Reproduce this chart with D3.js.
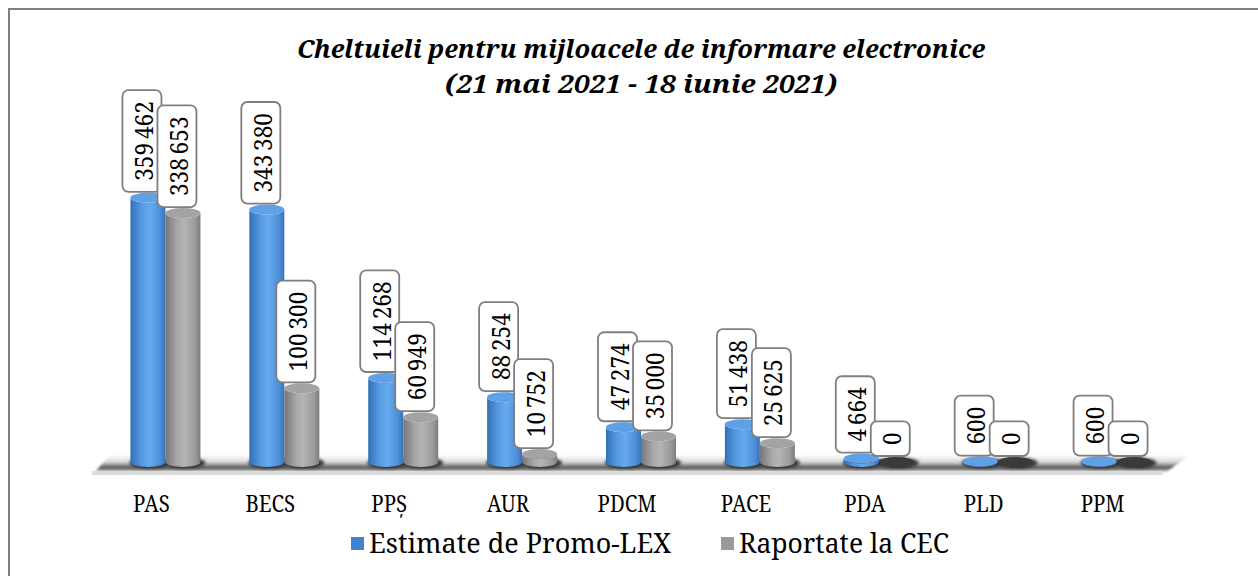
<!DOCTYPE html>
<html>
<head>
<meta charset="utf-8">
<script src="https://cdn.jsdelivr.net/npm/d3@7"></script>
<style>
  html, body { margin: 0; padding: 0; background: #fff; }
  svg { display: block; }
  svg text { font-family: "Noto Serif", "Liberation Serif", serif; }
</style>
</head>
<body>
<svg id="chart" width="1258" height="576"></svg>
<script>
// ---------- data ----------
const categories = ["PAS", "BECS", "PPȘ", "AUR", "PDCM", "PACE", "PDA", "PLD", "PPM"];
const estimate   = [359462, 343380, 114268, 88254, 47274, 51438, 4664, 600, 600];
const reported   = [338653, 100300, 60949, 10752, 35000, 25625, 0, 0, 0];
const seriesNames = ["Estimate de Promo-LEX", "Raportate la CEC"];
const titleLines = ["Cheltuieli pentru mijloacele de informare electronice", "(21 mai 2021 - 18 iunie 2021)"];

// ---------- setup ----------
const svg = d3.select("#chart");
const W = 1258, H = 576;
const FONT = "Noto Serif";

function condense(sel, k) {
  sel.each(function () {
    const n = this.getComputedTextLength();
    d3.select(this).attr("textLength", n * k).attr("lengthAdjust", "spacingAndGlyphs");
  });
}

const defs = svg.append("defs");
function hGrad(id, stops) {
  const g = defs.append("linearGradient").attr("id", id)
    .attr("x1", "0%").attr("x2", "100%").attr("y1", "0%").attr("y2", "0%");
  stops.forEach(s => g.append("stop").attr("offset", s[0]).attr("stop-color", s[1]));
}
hGrad("gBlue", [["0%", "#3070b8"], ["30%", "#5498e0"], ["55%", "#66aaee"], ["85%", "#4d8fd8"], ["100%", "#3872bb"]]);
hGrad("gGray", [["0%", "#767676"], ["35%", "#a9a9a9"], ["55%", "#b4b4b4"], ["85%", "#9a9a9a"], ["100%", "#7c7c7c"]]);
const fg = defs.append("linearGradient").attr("id", "gFloor")
  .attr("x1", "0").attr("x2", "0").attr("y1", "0").attr("y2", "1");
[["0%", "#ffffff"], ["35%", "#d8d8d8"], ["62%", "#5a5a5a"], ["75%", "#8a8a8a"], ["85%", "#f2f2f2"], ["100%", "#f4f4f4"]]
  .forEach(s => fg.append("stop").attr("offset", s[0]).attr("stop-color", s[1]));
defs.append("filter").attr("id", "blur2").attr("x", "-20%").attr("y", "-100%").attr("width", "140%").attr("height", "300%")
  .append("feGaussianBlur").attr("stdDeviation", 1.6);
defs.append("filter").attr("id", "blur1").attr("x", "-5%").attr("y", "-100%").attr("width", "110%").attr("height", "300%")
  .append("feGaussianBlur").attr("stdDeviation", 1.2);

// outer frame
svg.append("rect").attr("x", 9).attr("y", 9).attr("width", W + 20).attr("height", H + 20)
  .attr("fill", "#fff").attr("stroke", "#7f7f7f").attr("stroke-width", 2);

// scales
const x = d3.scaleBand().domain(categories).range([92, 1162]).paddingInner(0).paddingOuter(0);
const y = d3.scaleLinear().domain([0, 400000]).range([462, 168]);
const depthShift = 14;      // perspective offset of bars relative to the axis labels
const barW = 35, ry = 5;

// ---------- floor ----------
const floorTop = 455, floorBot = 475;
const x0 = x.range()[0], x1 = x.range()[1];
svg.append("path")
  .attr("d", `M${x0},${floorBot} L${x1},${floorBot} L${x1 + 28},${floorTop} L${x0 + 18},${floorTop} Z`)
  .attr("fill", "url(#gFloor)").attr("filter", "url(#blur1)");
svg.append("rect").attr("x", x0).attr("y", floorBot - 4).attr("width", x1 - x0).attr("height", 4)
  .attr("fill", "#dcdcdc");

// ---------- bars ----------
const series = [
  { name: seriesNames[0], values: estimate, grad: "url(#gBlue)", top: "#5fa0e6", flat: "#4a86c8", off: 0 },
  { name: seriesNames[1], values: reported, grad: "url(#gGray)", top: "#a3a3a3", flat: "#3a3a3a", off: 1 }
];

const gBars = svg.append("g");
series.forEach(s => {
  gBars.selectAll(null).data(categories).enter().append("ellipse")
    .attr("cx", d => x(d) + x.bandwidth() / 2 + depthShift - barW / 2 + s.off * barW + 2)
    .attr("cy", y(0) + 1)
    .attr("rx", barW / 2 + 3).attr("ry", ry + 0.5)
    .attr("fill", "#2c2c2c").attr("opacity", 0.9).attr("filter", "url(#blur2)");
});

function cylPath(cx, yt, yb) {
  const l = cx - barW / 2, r = cx + barW / 2;
  return `M${l},${yt} L${l},${yb} A${barW / 2},${ry} 0 0 0 ${r},${yb} L${r},${yt} A${barW / 2},${ry} 0 0 1 ${l},${yt} Z`;
}

const fmt = v => d3.format(",")(v).replace(/,/g, "\u2009");

categories.forEach((c, i) => {
  series.forEach(s => {
    const v = s.values[i];
    const cx = x(c) + x.bandwidth() / 2 + depthShift - barW / 2 + s.off * barW;
    const yt = y(v), yb = y(0);
    if (v === 0) {
      gBars.append("ellipse").attr("cx", cx).attr("cy", yb).attr("rx", barW / 2).attr("ry", ry)
        .attr("fill", s.flat);
      return;
    }
    gBars.append("path").attr("d", cylPath(cx, yt, yb)).attr("fill", s.grad);
    gBars.append("ellipse").attr("cx", cx).attr("cy", yt).attr("rx", barW / 2).attr("ry", ry)
      .attr("fill", s.top);
  });
});

// ---------- data labels ----------
const gLab = svg.append("g");
const labelFont = 26;
categories.forEach((c, i) => {
  series.forEach(s => {
    const v = s.values[i];
    const cx = x(c) + x.bandwidth() / 2 + depthShift - barW / 2 + s.off * barW;
    const g = gLab.append("g");
    const t = g.append("text").text(fmt(v))
      .style("font-family", FONT).attr("font-size", labelFont).attr("fill", "#000")
      .attr("text-anchor", "middle").attr("dominant-baseline", "central");
    const len = t.node().getComputedTextLength() * 0.87;
    t.attr("textLength", len).attr("lengthAdjust", "spacingAndGlyphs");
    const bw = 39, bh = len + 22;
    const bcx = cx - 6;
    const bBottom = y(v) - 6;
    const bcy = bBottom - bh / 2;
    g.insert("rect", "text")
      .attr("x", bcx - bw / 2).attr("y", bcy - bh / 2).attr("width", bw).attr("height", bh)
      .attr("rx", 6).attr("ry", 6)
      .attr("fill", "#fff").attr("stroke", "#7f7f7f").attr("stroke-width", 1.8);
    t.attr("transform", `translate(${bcx + 1},${bcy}) rotate(-90)`);
  });
});

// ---------- category axis labels ----------
const axisG = svg.append("g").attr("transform", `translate(0,512)`);
const axis = d3.axisBottom(x).tickSize(0).tickPadding(0);
axisG.call(axis);
axisG.attr("font-family", null).attr("font-size", null);
axisG.select(".domain").remove();
axisG.selectAll(".tick text")
  .style("font-family", FONT).attr("font-size", 24).attr("fill", "#000")
  .attr("dy", 0).attr("y", 0)
  .call(condense, 0.85);

// ---------- title ----------
const titleG = svg.append("g");
const titleLen = [688, 392];
titleLines.forEach((line, i) => {
  titleG.append("text").text(line)
    .attr("x", 641).attr("y", 58 + i * 35)
    .attr("text-anchor", "middle")
    .style("font-family", FONT).attr("font-size", 26)
    .attr("font-weight", "bold").attr("font-style", "italic").attr("fill", "#000")
    .attr("textLength", titleLen[i]).attr("lengthAdjust", "spacingAndGlyphs");
});

// ---------- legend ----------
const legendColors = ["#3f84d2", "#9a9a9a"];
const legendX = [351, 721], legendLen = [302, 210];
const legG = svg.append("g");
seriesNames.forEach((n, i) => {
  legG.append("rect").attr("x", legendX[i]).attr("y", 537).attr("width", 13).attr("height", 13)
    .attr("fill", legendColors[i]);
  legG.append("text").text(n)
    .attr("x", legendX[i] + 18).attr("y", 553)
    .style("font-family", FONT).attr("font-size", 28).attr("fill", "#000")
    .attr("textLength", legendLen[i]).attr("lengthAdjust", "spacingAndGlyphs");
});
</script>
</body>
</html>
